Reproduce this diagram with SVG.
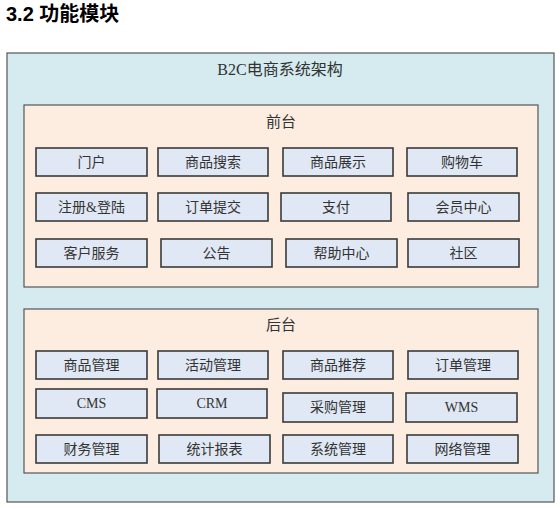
<svg xmlns="http://www.w3.org/2000/svg" width="560" height="509" viewBox="0 0 560 509">
<style>
.h{font-family:"Liberation Sans","Noto Sans CJK SC",sans-serif;font-weight:bold;font-size:20px;fill:#000}
.t{font-family:"Liberation Serif","Noto Sans CJK SC",serif;font-size:15px;fill:#333;text-anchor:middle}
.outer{fill:#d5ebf0;stroke:#555;stroke-width:1.2}
.panel{fill:#fdece0;stroke:#555;stroke-width:1.2}
.box rect{fill:#dfe8f4;stroke:#3a3a3a;stroke-width:1.6}
.box text{font-family:"Liberation Serif","Noto Sans CJK SC",serif;font-size:14px;fill:#333;text-anchor:middle}
</style>
<rect width="560" height="509" fill="#fff"/>
<text class="h" x="6" y="21">3.2 功能模块</text>
<g id="system">
<rect class="outer" x="7" y="53" width="547" height="449"/>
<text class="t" x="280" y="75" style="font-size:16px">B2C电商系统架构</text>
</g>
<g id="frontend">
<rect class="panel" x="24" y="105" width="514" height="182"/>
<text class="t" x="281" y="127">前台</text>
</g>
<g id="backend">
<rect class="panel" x="24" y="309" width="514" height="164"/>
<text class="t" x="281" y="330">后台</text>
</g>
<g id="f1" class="box"><rect x="36" y="148" width="111" height="28"/><text x="91.5" y="167">门户</text></g>
<g id="f2" class="box"><rect x="158" y="148" width="110" height="28"/><text x="213" y="167">商品搜索</text></g>
<g id="f3" class="box"><rect x="283" y="148" width="110" height="28"/><text x="338" y="167">商品展示</text></g>
<g id="f4" class="box"><rect x="407" y="148" width="110" height="28"/><text x="462" y="167">购物车</text></g>
<g id="f5" class="box"><rect x="36" y="193" width="111" height="28"/><text x="91.5" y="212">注册&amp;登陆</text></g>
<g id="f6" class="box"><rect x="158" y="193" width="110" height="28"/><text x="213" y="212">订单提交</text></g>
<g id="f7" class="box"><rect x="281" y="193" width="110" height="28"/><text x="336" y="212">支付</text></g>
<g id="f8" class="box"><rect x="408" y="193" width="111" height="28"/><text x="463.5" y="212">会员中心</text></g>
<g id="f9" class="box"><rect x="36" y="239" width="111" height="28"/><text x="91.5" y="258">客户服务</text></g>
<g id="f10" class="box"><rect x="161" y="239" width="111" height="28"/><text x="216.5" y="258">公告</text></g>
<g id="f11" class="box"><rect x="286" y="239" width="111" height="28"/><text x="341.5" y="258">帮助中心</text></g>
<g id="f12" class="box"><rect x="408" y="239" width="111" height="28"/><text x="463.5" y="258">社区</text></g>
<g id="b1" class="box"><rect x="36" y="351" width="111" height="28"/><text x="91.5" y="370">商品管理</text></g>
<g id="b2" class="box"><rect x="158" y="351" width="110" height="28"/><text x="213" y="370">活动管理</text></g>
<g id="b3" class="box"><rect x="283" y="351" width="110" height="28"/><text x="338" y="370">商品推荐</text></g>
<g id="b4" class="box"><rect x="408" y="351" width="110" height="28"/><text x="463" y="370">订单管理</text></g>
<g id="b5" class="box"><rect x="36" y="389" width="111" height="29"/><text x="91.5" y="408">CMS</text></g>
<g id="b6" class="box"><rect x="157" y="389" width="110" height="29"/><text x="212" y="408">CRM</text></g>
<g id="b7" class="box"><rect x="283" y="393" width="110" height="29"/><text x="338" y="412">采购管理</text></g>
<g id="b8" class="box"><rect x="406" y="393" width="111" height="29"/><text x="461.5" y="412">WMS</text></g>
<g id="b9" class="box"><rect x="36" y="435" width="111" height="28"/><text x="91.5" y="454">财务管理</text></g>
<g id="b10" class="box"><rect x="159" y="435" width="111" height="28"/><text x="214.5" y="454">统计报表</text></g>
<g id="b11" class="box"><rect x="283" y="435" width="110" height="28"/><text x="338" y="454">系统管理</text></g>
<g id="b12" class="box"><rect x="407" y="435" width="111" height="28"/><text x="462.5" y="454">网络管理</text></g>
<g id="connectors"/>
</svg>
